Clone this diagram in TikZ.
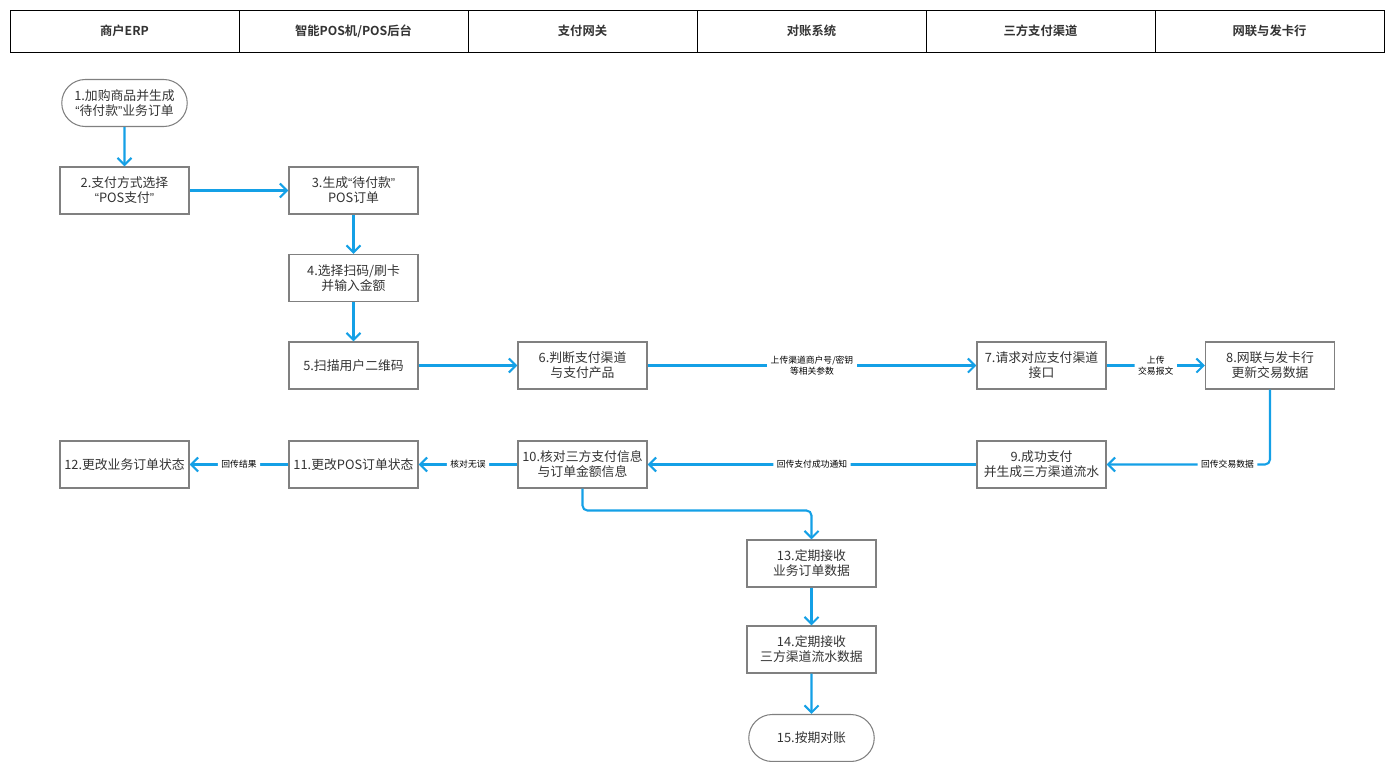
\documentclass[tikz,border=0pt]{standalone}
\usepackage{fontspec}
\setmainfont{Noto Sans CJK SC}[BoldFont={Noto Sans CJK SC Bold}]
\newfontfamily\latinquote{Liberation Sans}
\newcommand{\openq}{{\latinquote “}}
\newcommand{\closeq}{{\latinquote ”}}
\usetikzlibrary{shapes.misc, arrows.meta}
\definecolor{flowblue}{RGB}{20,160,230}
\definecolor{boxgray}{RGB}{128,128,128}
\definecolor{textgray}{RGB}{51,51,51}
\tikzstyle{lane} = [rectangle, minimum width=4.58cm, minimum height=0.84cm, draw=black, line width=0.5pt, font=\fontsize{7}{8}\selectfont\bfseries, text=textgray]
\tikzstyle{startstop} = [rounded rectangle, minimum width=2.58cm, minimum height=0.94cm, align=center, draw=boxgray, line width=0.6pt, font=\fontsize{7.3}{8.6}\selectfont, text=textgray, inner sep=1pt]
\tikzstyle{process} = [rectangle, minimum width=2.58cm, minimum height=0.94cm, align=center, draw=boxgray, line width=0.6pt, font=\fontsize{7.3}{8.6}\selectfont, text=textgray, inner sep=1pt]
\tikzstyle{arrow} = [flowblue, line width=1.2pt, -{Straight Barb[length=1.4mm, width=2.8mm]}, rounded corners=0.1cm]
\tikzstyle{lbl} = [fill=white, align=center, font=\fontsize{5}{6}\selectfont, text=black, inner sep=2pt]

\begin{document}
\begin{tikzpicture}[node distance=1.75cm]
\useasboundingbox (0,0) rectangle (27.7,-15.24);

\node (erp) [lane] at (2.49,-0.62) {商户ERP};
\node (pos) [lane, right of=erp, xshift=2.83cm] {智能POS机/POS后台};
\node (gateway) [lane, right of=pos, xshift=2.83cm] {支付网关};
\node (recon) [lane, right of=gateway, xshift=2.83cm] {对账系统};
\node (channel) [lane, right of=recon, xshift=2.83cm] {三方支付渠道};
\node (unionpay) [lane, right of=channel, xshift=2.83cm] {网联与发卡行};

\node (order) [startstop] at (2.49,-2.06) {1.加购商品并生成\\\openq 待付款\closeq 业务订单};
\node (paytype) [process, below of=order] {2.支付方式选择\\\openq POS支付\closeq};
\node (posorder) [process, right of=paytype, xshift=2.83cm] {3.生成\openq 待付款\closeq\\POS订单};
\node (scanmode) [process, below of=posorder] {4.选择扫码/刷卡\\并输入金额};
\node (scancode) [process, below of=scanmode] {5.扫描用户二维码};
\node (judge) [process, right of=scancode, xshift=2.83cm] {6.判断支付渠道\\与支付产品};
\node (request) [process, right of=judge, xshift=7.43cm] {7.请求对应支付渠道\\接口};
\node (bank) [process, right of=request, xshift=2.82cm] {8.网联与发卡行\\更新交易数据};

\node (success) [process, below of=request, yshift=-0.23cm] {9.成功支付\\并生成三方渠道流水};
\node (check) [process, below of=judge, yshift=-0.23cm] {10.核对三方支付信息\\与订单金额信息};
\node (posstatus) [process, left of=check, xshift=-2.83cm] {11.更改POS订单状态};
\node (bizstatus) [process, left of=posstatus, xshift=-2.83cm] {12.更改业务订单状态};

\node (recvorder) [process, below of=check, xshift=4.58cm, yshift=-0.23cm] {13.定期接收\\业务订单数据};
\node (recvflow) [process, below of=recvorder, yshift=0.03cm] {14.定期接收\\三方渠道流水数据};
\node (reconcile) [startstop, below of=recvflow, yshift=-0.02cm] {15.按期对账};

\draw [arrow] (order) -- (paytype);
\draw [arrow] (paytype) -- (posorder);
\draw [arrow] (posorder) -- (scanmode);
\draw [arrow] (scanmode) -- (scancode);
\draw [arrow] (scancode) -- (judge);
\draw [arrow] (judge) -- node [lbl] {上传渠道商户号/密钥\\等相关参数} (request);
\draw [arrow] (request) -- node [lbl] {上传\\交易报文} (bank);
\draw [arrow] (bank) |- node [lbl, pos=0.63] {回传交易数据} (success);
\draw [arrow] (success) -- node [lbl] {回传支付成功通知} (check);
\draw [arrow] (check) -- node [lbl] {核对无误} (posstatus);
\draw [arrow] (posstatus) -- node [lbl] {回传结果} (bizstatus);
\draw [arrow] (check.south) -- ++(0,-0.44) -| (recvorder);
\draw [arrow] (recvorder) -- (recvflow);
\draw [arrow] (recvflow) -- (reconcile);

\end{tikzpicture}
\end{document}
